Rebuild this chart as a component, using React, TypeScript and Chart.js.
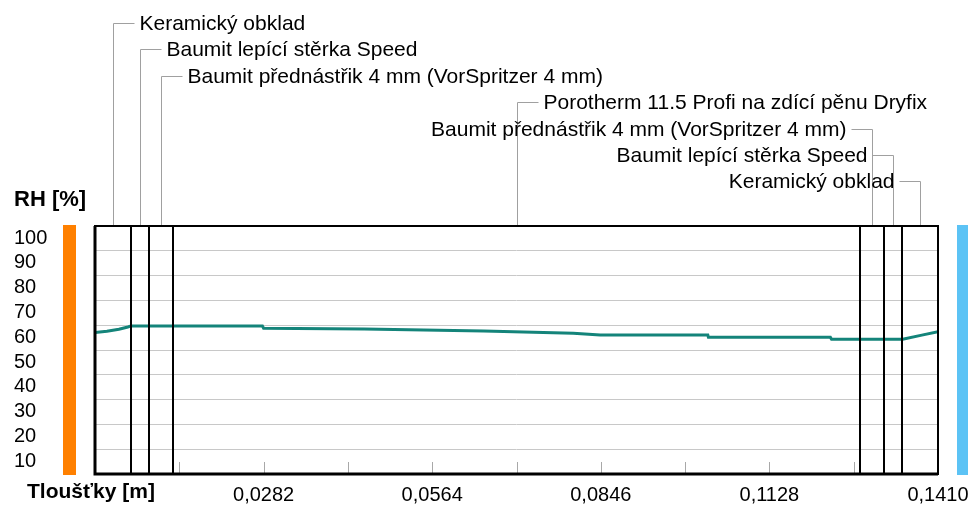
import React, { useEffect, useRef } from 'react';
import { Chart, registerables } from 'chart.js';

Chart.register(...registerables);

// Layers of the wall (from interior to exterior)
const layerNames = [
  'Keramický obklad',
  'Baumit lepící stěrka Speed',
  'Baumit přednástřik 4 mm (VorSpritzer 4 mm)',
  'Porotherm 11.5 Profi na zdící pěnu Dryfix',
  'Baumit přednástřik 4 mm (VorSpritzer 4 mm)',
  'Baumit lepící stěrka Speed',
  'Keramický obklad',
];
const layerThickness = [0.006, 0.003, 0.004, 0.115, 0.004, 0.003, 0.006];

// Relative humidity profile through the wall
const positionX = [
  0, 0.002, 0.004, 0.0055, 0.006, 0.013, 0.028, 0.0282, 0.045, 0.065, 0.08,
  0.0845, 0.1025, 0.1026, 0.123, 0.1232, 0.1351, 0.1383, 0.141,
];
const rhValues = [
  57.1, 57.6, 58.4, 59.3, 59.7, 59.7, 59.7, 58.8, 58.5, 57.7, 56.8,
  56.0, 56.0, 55.1, 55.1, 54.3, 54.3, 56.0, 57.4,
];

// Axis ticks
const xTickValues = [0, 0.0141, 0.0282, 0.0423, 0.0564, 0.0705, 0.0846, 0.0987, 0.1128, 0.1269, 0.141];
const xTickLabels = ['', '', '0,0282', '', '0,0564', '', '0,0846', '', '0,1128', '', '0,1410'];
const yTickLabels = ['', '10', '20', '30', '40', '50', '60', '70', '80', '90', '100'];

const xMax = 0.141;
const FONT = '"Liberation Sans", Arial, sans-serif';

const overlayPlugin = {
  id: 'overlay',
  afterDatasetsDraw(chart: any) {
    const { ctx, chartArea: a } = chart;
    const xs = chart.scales.x;
    ctx.save();

    // layer boundaries
    const bounds: number[] = [];
    let acc = 0;
    for (let i = 0; i < layerThickness.length; i++) {
      bounds.push(acc);
      acc += layerThickness[i];
    }
    bounds.push(acc);
    ctx.strokeStyle = '#000';
    ctx.lineWidth = 2;
    for (let i = 1; i < bounds.length - 1; i++) {
      const px = Math.round(xs.getPixelForValue(bounds[i]));
      ctx.beginPath();
      ctx.moveTo(px, a.top);
      ctx.lineTo(px, a.bottom);
      ctx.stroke();
    }

    // minor tick marks inside plot
    ctx.strokeStyle = '#a8a8a8';
    ctx.lineWidth = 1;
    xs.ticks.forEach((t: any) => {
      if (t.value <= 0 || t.value >= xMax - 1e-9) return;
      const px = Math.round(xs.getPixelForValue(t.value)) + 0.5;
      ctx.beginPath();
      ctx.moveTo(px, a.bottom - 12);
      ctx.lineTo(px, a.bottom);
      ctx.stroke();
    });

    // plot frame
    ctx.strokeStyle = '#000';
    ctx.lineWidth = 2;
    ctx.strokeRect(a.left, a.top, a.right - a.left, a.bottom - a.top);
    ctx.lineWidth = 3;
    ctx.beginPath();
    ctx.moveTo(a.left, a.top);
    ctx.lineTo(a.left, a.bottom);
    ctx.lineTo(a.right, a.bottom);
    ctx.stroke();

    // leader lines and layer labels
    ctx.font = '21px ' + FONT;
    ctx.textBaseline = 'middle';
    for (let i = 0; i < layerNames.length; i++) {
      const mid = Math.round(xs.getPixelForValue((bounds[i] + bounds[i + 1]) / 2)) + 0.5;
      const y = Math.round(a.top - 203 + i * 26.4) + 0.5;
      const left = i < 4;
      ctx.strokeStyle = '#a0a0a0';
      ctx.lineWidth = 1;
      ctx.beginPath();
      ctx.moveTo(mid, a.top - 1);
      ctx.lineTo(mid, y);
      ctx.lineTo(left ? mid + 21 : mid - 21, y);
      ctx.stroke();
      ctx.fillStyle = '#000';
      ctx.textAlign = left ? 'left' : 'right';
      ctx.fillText(layerNames[i], left ? mid + 26 : mid - 26, y + 1);
    }

    // interior / exterior bars
    ctx.fillStyle = '#ff8000';
    ctx.fillRect(a.left - 32, a.top - 1, 13, a.bottom - a.top + 2);
    ctx.fillStyle = '#5cc3f5';
    ctx.fillRect(a.right + 19, a.top - 1, 11, a.bottom - a.top + 2);

    // axis titles
    ctx.fillStyle = '#000';
    ctx.textAlign = 'left';
    ctx.font = 'bold 22px ' + FONT;
    ctx.fillText('RH [%]', 14, a.top - 26);
    ctx.font = 'bold 21px ' + FONT;
    ctx.fillText('Tloušťky [m]', 27, a.bottom + 18);

    ctx.restore();
  },
};

export default function App() {
  const ref = useRef<HTMLCanvasElement | null>(null);

  useEffect(() => {
    if (!ref.current) return;
    const chart = new Chart(ref.current, {
      type: 'line',
      data: {
        datasets: [
          {
            data: positionX.map((x, i) => ({ x, y: rhValues[i] })),
            borderColor: '#14847a',
            borderWidth: 3,
            pointRadius: 0,
            tension: 0,
            fill: false,
          },
        ],
      },
      options: {
        animation: false,
        responsive: false,
        maintainAspectRatio: false,
        layout: { padding: { left: 14, top: 226, right: 38, bottom: 0 } },
        plugins: { legend: { display: false }, tooltip: { enabled: false } },
        scales: {
          x: {
            type: 'linear',
            min: 0,
            max: xMax,
            afterBuildTicks: (s: any) => {
              s.ticks = xTickValues.map((v) => ({ value: v }));
            },
            grid: { display: false },
            border: { display: false },
            ticks: {
              autoSkip: false,
              maxRotation: 0,
              minRotation: 0,
              padding: 1,
              color: '#000',
              font: { family: FONT, size: 20 },
              callback: (_v: any, i: number) => xTickLabels[i] ?? '',
            },
            afterFit: (s: any) => {
              s.height = 32;
            },
          },
          y: {
            type: 'linear',
            min: 0,
            max: 100,
            ticks: {
              stepSize: 10,
              autoSkip: false,
              crossAlign: 'far',
              labelOffset: 12,
              color: '#000',
              font: { family: FONT, size: 20 },
              callback: (_v: any, i: number) => yTickLabels[i] ?? '',
            },
            grid: { color: '#c8c8c8', drawTicks: false, lineWidth: 1 },
            border: { display: false },
            afterFit: (s: any) => {
              s.width = 81;
            },
          },
        },
      },
      plugins: [overlayPlugin],
    } as any);
    return () => chart.destroy();
  }, []);

  return (
    <div style={{ position: 'fixed', left: 0, top: 0, width: 976, height: 506, background: '#fff' }}>
      <canvas ref={ref} width={976} height={506} style={{ display: 'block', width: 976, height: 506 }} />
    </div>
  );
}
